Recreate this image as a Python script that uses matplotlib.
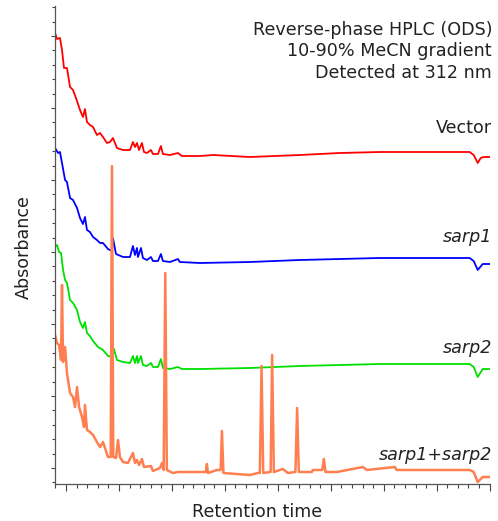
import matplotlib
matplotlib.use("Agg")
import matplotlib.pyplot as plt
from matplotlib.ticker import MultipleLocator

# retention time (min) and absorbance (mAU above each trace's own baseline)
red_t = [-1.04, -0.85, -0.57, -0.38, -0.19, 0.09, 0.38, 0.66, 0.94, 1.32, 1.60, 1.79, 1.98,
         2.26, 2.55, 2.92, 3.21, 3.49, 3.87, 4.15, 4.43, 4.81, 5.38, 6.04, 6.32, 6.51, 6.70,
         6.89, 7.17, 7.36, 7.64, 8.02, 8.21, 8.68, 8.96, 9.15, 9.81, 10.57, 10.94, 12.64,
         13.87, 17.36, 22.08, 25.85, 29.62, 34.34, 38.11, 38.49, 38.87, 39.15, 39.43, 40.0]
red_s = [124, 118, 119, 107, 89, 89, 70, 67, 59, 47, 40, 48, 35, 32, 30, 22, 24, 20, 14, 15,
         19, 9, 7, 7, 15, 10, 14, 7, 14, 5, 4, 7, 3, 3, 11, 3, 2, 4, 1, 1, 2, 0, 2, 4, 5, 5,
         5, 2, -6, -1, 0, 0]

blue_t = [-1.04, -0.75, -0.57, -0.38, -0.09, 0.09, 0.38, 0.66, 1.04, 1.32, 1.60, 1.79, 1.98,
          2.26, 2.55, 2.92, 3.21, 3.49, 3.96, 4.34, 4.43, 4.72, 5.38, 6.04, 6.32, 6.51, 6.70,
          6.79, 7.08, 7.26, 7.64, 8.02, 8.21, 8.68, 8.96, 9.15, 9.81, 10.57, 10.75, 12.64,
          17.36, 22.08, 25.85, 29.62, 34.34, 38.11, 38.49, 38.87, 39.34, 40.0]
blue_s = [115, 110, 111, 100, 83, 81, 65, 63, 55, 45, 39, 46, 33, 31, 26, 23, 20, 20, 14, 12,
          25, 9, 6, 6, 17, 8, 15, 6, 15, 5, 3, 6, 2, 2, 9, 2, 1, 4, 1, 0, 1, 3, 4, 5, 5, 5,
          2, -7, -1, -1]

green_t = [-1.04, -0.85, -0.66, -0.47, -0.28, -0.09, 0.09, 0.38, 0.66, 1.04, 1.32, 1.60,
           1.79, 1.98, 2.26, 2.55, 3.02, 3.49, 3.96, 4.34, 4.53, 4.81, 5.38, 6.04, 6.32, 6.51,
           6.70, 6.79, 7.08, 7.26, 7.64, 8.02, 8.21, 8.68, 8.96, 9.15, 9.81, 10.57, 10.94,
           12.64, 17.36, 22.08, 25.85, 29.62, 34.34, 38.11, 38.49, 38.87, 39.34, 40.0]
green_s = [122, 124, 117, 116, 99, 89, 86, 69, 66, 59, 47, 41, 47, 36, 33, 28, 22, 19, 13, 12,
           20, 9, 7, 6, 13, 6, 13, 6, 13, 4, 3, 6, 2, 2, 10, 1, 0, 2, 0, 0, 1, 3, 4, 5, 5, 5,
           2, -8, 0, 0]

mix_t = [-1.04, -0.85, -0.66, -0.47, -0.38, -0.28, -0.09, 0.09, 0.38, 0.66, 0.85, 1.04, 1.23,
         1.51, 1.70, 1.79, 1.98, 2.26, 2.55, 2.92, 3.21, 3.49, 3.68, 3.96, 4.22, 4.34, 4.46,
         4.72, 4.91, 5.09, 5.38, 5.85, 6.32, 6.51, 6.70, 6.89, 7.17, 7.36, 8.02, 8.21, 8.87,
         9.06, 9.22, 9.37, 9.52, 10.09, 10.57, 11.42, 13.20, 13.30, 13.40, 14.25, 14.60, 14.72,
         14.86, 17.36, 18.11, 18.30, 18.46, 18.62, 19.25, 19.32, 19.46, 19.62, 20.47, 20.94,
         21.66, 21.82, 21.98, 23.21, 23.30, 24.20, 24.34, 24.50, 25.57, 28.02, 28.40, 31.04,
         31.23, 38.11, 38.49, 38.87, 39.34, 40.0]
mix_s = [137, 129, 127, 112, 187, 110, 125, 99, 79, 75, 65, 85, 65, 55, 45, 67, 42, 40, 37, 30,
         25, 30, 24, 15, 15, 306, 15, 14, 32, 15, 10, 9, 19, 9, 12, 7, 13, 5, 6, 1, 4, 9, 2, 199,
         2, -1, 0, 0, 0, 8, -1, 2, 2, 41, -1, -3, -1, -1, 106, -1, 0, 0, 117, 0, 3, -1, 0, 64, 0,
         0, 2, 2, 13, 0, 0, 5, 2, 5, 2, 2, 0, -10, -5, -5]

traces = [(red_t, red_s), (blue_t, blue_s), (green_t, green_s), (mix_t, mix_s)]
offsets = [327, 221, 115, 12]
colors = ["#ff0000", "#0000ff", "#00e000", "#ff7f50"]
widths = [1.3, 1.3, 1.3, 1.8]
names = ["Vector", "sarp1", "sarp2", "sarp1+sarp2"]
name_y = [133, 242, 353, 460]  # baseline, px from top
title_lines = ["Reverse-phase HPLC (ODS)", "10-90% MeCN gradient", "Detected at 312 nm"]

W, H = 498, 521
fig = plt.figure(figsize=(W / 100, H / 100), dpi=100)
ax = fig.add_axes([55 / W, 1 - 484 / H, 435 / W, 478 / H])

for (t, s), off, c, lw in zip(traces, offsets, colors, widths):
    ax.plot(t, [v + off for v in s], color=c, lw=lw, solid_joinstyle="round")

ax.set_xlim(-1.04, 40.03)
ax.set_ylim(0, 478)
ax.xaxis.set_major_locator(MultipleLocator(5))
ax.xaxis.set_minor_locator(MultipleLocator(1))
ax.yaxis.set_major_locator(MultipleLocator(72, offset=16))
ax.yaxis.set_minor_locator(MultipleLocator(14.4, offset=16))
ax.tick_params(which="both", labelbottom=False, labelleft=False, color="#444444", width=0.8)
ax.tick_params(axis="x", which="major", length=5)
ax.tick_params(axis="x", which="minor", length=3)
ax.tick_params(axis="y", which="major", length=3)
ax.tick_params(axis="y", which="minor", length=2.5)
for side in ["top", "right"]:
    ax.spines[side].set_visible(False)
for side in ["left", "bottom"]:
    ax.spines[side].set_color("#555555")
    ax.spines[side].set_linewidth(0.9)

fs = 12.6
txt = "#222222"
for i, line in enumerate(title_lines):
    fig.text(492 / W, 1 - (35 + 21.5 * i) / H, line, ha="right", va="baseline",
             fontsize=fs, color=txt)
for i, (n, y) in enumerate(zip(names, name_y)):
    fig.text(492 / W, 1 - y / H, n, ha="right", va="baseline", fontsize=fs, color=txt,
             style="normal" if i == 0 else "italic")

fig.text(23.5 / W, 1 - 247 / H, "Absorbance", rotation=90, ha="center", va="center",
         fontsize=fs, color=txt)
fig.text(257 / W, 1 - 517 / H, "Retention time", ha="center", va="baseline",
         fontsize=fs, color=txt)

fig.savefig("out.png", dpi=100)
